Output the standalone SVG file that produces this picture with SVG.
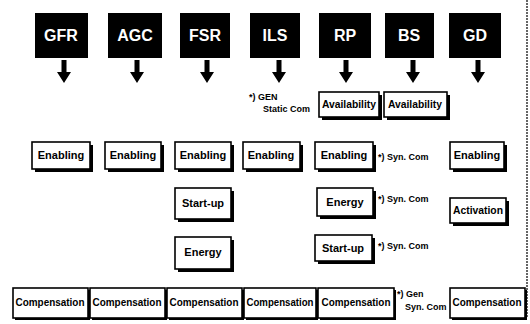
<svg xmlns="http://www.w3.org/2000/svg" width="530" height="324" viewBox="0 0 530 324">
<style>
.hdr{fill:#000}
.ht{fill:#fff;font-family:"Liberation Sans",Arial,sans-serif;font-weight:bold;font-size:16px;text-anchor:middle}
.bx{fill:#fff;stroke:#000;stroke-width:1.6}
.sh{fill:#000}
.bt{fill:#000;font-family:"Liberation Sans",Arial,sans-serif;font-weight:bold;font-size:11px;text-anchor:middle}
.nt{fill:#000;font-family:"Liberation Sans",Arial,sans-serif;font-weight:bold;font-size:9px}
</style>
<defs>
<path id="arr" d="M-2.5,0 H2.5 V12 H7 L0,23 L-7,12 H-2.5 Z" fill="#000"/>
</defs>
<rect width="530" height="324" fill="#fff"/>
<line x1="527" y1="0" x2="527" y2="318" stroke="#333" stroke-width="1.5" stroke-dasharray="2 1"/>

<g id="connectors">
<use href="#arr" x="64" y="60"/>
<use href="#arr" x="137" y="60"/>
<use href="#arr" x="207" y="60"/>
<use href="#arr" x="279" y="60"/>
<use href="#arr" x="346" y="60"/>
<use href="#arr" x="413" y="60"/>
<use href="#arr" x="478" y="60"/>
</g>

<g id="GFR"><rect class="hdr" x="35" y="13" width="53" height="45"/><text class="ht" x="61" y="41">GFR</text></g>
<g id="AGC"><rect class="hdr" x="108" y="13" width="54" height="45"/><text class="ht" x="135" y="41">AGC</text></g>
<g id="FSR"><rect class="hdr" x="180" y="13" width="50" height="45"/><text class="ht" x="205" y="41">FSR</text></g>
<g id="ILS"><rect class="hdr" x="250" y="13" width="50" height="45"/><text class="ht" x="275" y="41">ILS</text></g>
<g id="RP"><rect class="hdr" x="319" y="13" width="52" height="45"/><text class="ht" x="345" y="41">RP</text></g>
<g id="BS"><rect class="hdr" x="385" y="13" width="49" height="45"/><text class="ht" x="409" y="41">BS</text></g>
<g id="GD"><rect class="hdr" x="449" y="13" width="52" height="45"/><text class="ht" x="475" y="41">GD</text></g>

<g id="note-gen-static">
<text class="nt" x="249" y="100">*) GEN</text>
<text class="nt" x="263" y="112">Static Com</text>
</g>

<g id="RP-availability"><rect class="sh" x="322" y="95" width="60" height="25"/><rect class="bx" x="319" y="92" width="60" height="25"/><text class="bt" x="349" y="108" textLength="54" lengthAdjust="spacingAndGlyphs">Availability</text></g>
<g id="BS-availability"><rect class="sh" x="387" y="95" width="63" height="25"/><rect class="bx" x="384" y="92" width="63" height="25"/><text class="bt" x="415" y="108" textLength="54" lengthAdjust="spacingAndGlyphs">Availability</text></g>

<g id="GFR-enabling"><rect class="sh" x="35" y="145" width="58" height="27"/><rect class="bx" x="32" y="142" width="58" height="27"/><text class="bt" x="61" y="159">Enabling</text></g>
<g id="AGC-enabling"><rect class="sh" x="108" y="145" width="56" height="27"/><rect class="bx" x="105" y="142" width="56" height="27"/><text class="bt" x="133" y="159">Enabling</text></g>
<g id="FSR-enabling"><rect class="sh" x="178" y="145" width="56" height="27"/><rect class="bx" x="175" y="142" width="56" height="27"/><text class="bt" x="203" y="159">Enabling</text></g>
<g id="ILS-enabling"><rect class="sh" x="246" y="145" width="57" height="27"/><rect class="bx" x="243" y="142" width="57" height="27"/><text class="bt" x="271" y="159">Enabling</text></g>
<g id="RP-enabling"><rect class="sh" x="318" y="145" width="58" height="27"/><rect class="bx" x="315" y="142" width="58" height="27"/><text class="bt" x="344" y="159">Enabling</text></g>
<g id="GD-enabling"><rect class="sh" x="453" y="145" width="54" height="27"/><rect class="bx" x="450" y="142" width="54" height="27"/><text class="bt" x="477" y="159">Enabling</text></g>
<text class="nt" x="378" y="160">*) Syn. Com</text>

<g id="FSR-startup"><rect class="sh" x="178" y="191" width="56" height="31"/><rect class="bx" x="175" y="188" width="56" height="31"/><text class="bt" x="203" y="207">Start-up</text></g>
<g id="RP-energy"><rect class="sh" x="320" y="191" width="56" height="28"/><rect class="bx" x="317" y="188" width="56" height="28"/><text class="bt" x="345" y="206">Energy</text></g>
<text class="nt" x="378" y="202">*) Syn. Com</text>
<g id="GD-activation"><rect class="sh" x="453" y="201" width="56" height="25"/><rect class="bx" x="450" y="198" width="56" height="25"/><text class="bt" x="478" y="214" textLength="50" lengthAdjust="spacingAndGlyphs">Activation</text></g>

<g id="FSR-energy"><rect class="sh" x="178" y="240" width="56" height="32"/><rect class="bx" x="175" y="237" width="56" height="32"/><text class="bt" x="203" y="256">Energy</text></g>
<g id="RP-startup"><rect class="sh" x="318" y="238" width="57" height="26"/><rect class="bx" x="315" y="235" width="57" height="26"/><text class="bt" x="343" y="252">Start-up</text></g>
<text class="nt" x="378" y="249">*) Syn. Com</text>

<g id="GFR-compensation"><rect class="sh" x="15" y="290" width="75" height="30"/><rect class="bx" x="13" y="288" width="75" height="30"/><text class="bt" x="50" y="306" textLength="69" lengthAdjust="spacingAndGlyphs">Compensation</text></g>
<g id="AGC-compensation"><rect class="sh" x="92" y="290" width="75" height="30"/><rect class="bx" x="90" y="288" width="75" height="30"/><text class="bt" x="127" y="306" textLength="69" lengthAdjust="spacingAndGlyphs">Compensation</text></g>
<g id="FSR-compensation"><rect class="sh" x="169" y="290" width="75" height="30"/><rect class="bx" x="167" y="288" width="75" height="30"/><text class="bt" x="204" y="306" textLength="69" lengthAdjust="spacingAndGlyphs">Compensation</text></g>
<g id="ILS-compensation"><rect class="sh" x="246" y="290" width="72" height="30"/><rect class="bx" x="244" y="288" width="72" height="30"/><text class="bt" x="280" y="306" textLength="67" lengthAdjust="spacingAndGlyphs">Compensation</text></g>
<g id="RP-compensation"><rect class="sh" x="320" y="290" width="76" height="30"/><rect class="bx" x="318" y="288" width="76" height="30"/><text class="bt" x="356" y="306" textLength="69" lengthAdjust="spacingAndGlyphs">Compensation</text></g>
<g id="GD-compensation"><rect class="sh" x="452" y="290" width="75" height="30"/><rect class="bx" x="450" y="288" width="75" height="30"/><text class="bt" x="487" y="306" textLength="69" lengthAdjust="spacingAndGlyphs">Compensation</text></g>
<text class="nt" x="397" y="297">*) Gen</text>
<text class="nt" x="405" y="310">Syn. Com</text>
</svg>
